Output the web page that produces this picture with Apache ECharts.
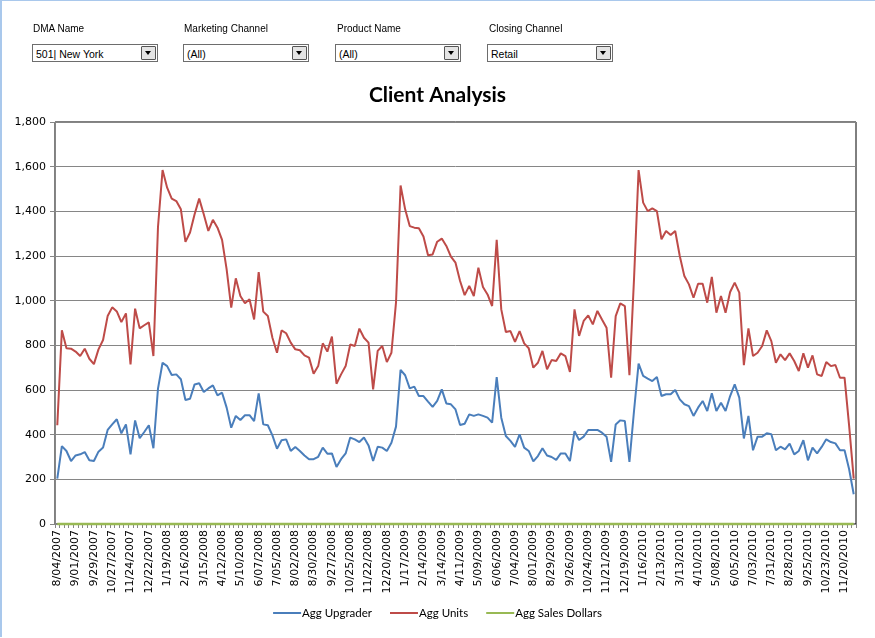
<!DOCTYPE html>
<html>
<head>
<meta charset="utf-8">
<script src="https://cdn.jsdelivr.net/npm/echarts@6/dist/echarts.min.js"></script>
<style>
  html, body { margin: 0; padding: 0; background: #fff; }
  #wrap { position: relative; width: 875px; height: 638px; overflow: hidden; }
  #chart { position: absolute; left: 0; top: 0; width: 875px; height: 638px; }
  .edge { position: absolute; left: 0; top: 0; width: 873px; height: 636px; border-left: 2px solid #a9c8ec; border-top: 1px solid #a9c8ec; pointer-events: none; }
  .lbl { position: absolute; font: 10px "Liberation Sans", Arial, sans-serif; color: #000; }
  .box { position: absolute; height: 18px; width: 126px; border: 1px solid #6d6d6d; background: #fff;
         font: 10.5px "Liberation Sans", Arial, sans-serif; line-height: 18px; padding-left: 3px; box-sizing: border-box; }
  .btn { position: absolute; right: 1px; top: 1px; width: 15px; height: 14px; background: #e4e4e4;
         border: 1px solid #555; border-radius: 1px; box-sizing: border-box; }
  .btn:after { content: ''; position: absolute; left: 3px; top: 4px; border-left: 3px solid transparent;
               border-right: 3px solid transparent; border-top: 4px solid #000; }
</style>
</head>
<body>
<div id="wrap">
  <div id="chart"></div>
  <div class="edge"></div>
  <div class="lbl" style="left:33px;top:23px">DMA Name</div>
  <div class="lbl" style="left:184px;top:23px">Marketing Channel</div>
  <div class="lbl" style="left:337px;top:23px">Product Name</div>
  <div class="lbl" style="left:489px;top:23px">Closing Channel</div>
  <div class="box" style="left:32px;top:44px">501| New York<div class="btn"></div></div>
  <div class="box" style="left:183px;top:44px">(All)<div class="btn"></div></div>
  <div class="box" style="left:335px;top:44px">(All)<div class="btn"></div></div>
  <div class="box" style="left:487px;top:44px">Retail<div class="btn"></div></div>
</div>
<script>
// weekly series, first week 8/04/2007
var startDate = '2007-08-04'
var seriesNames = ['Agg Upgrader', 'Agg Units', 'Agg Sales Dollars']

var aggUpgrader = [
  203, 349, 327, 282, 307, 312, 322, 285, 282, 324, 342, 421, 446, 469, 406, 446, 312, 464, 384, 412,
  442, 339, 606, 722, 707, 667, 670, 648, 555, 561, 625, 630, 591, 607, 621, 576, 588, 521, 431, 484,
  466, 487, 487, 461, 585, 446, 442, 397, 337, 375, 379, 327, 345, 327, 307, 290, 290, 301, 342, 315,
  316, 255, 290, 316, 387, 379, 367, 387, 352, 282, 346, 342, 327, 364, 436, 690, 666, 607, 615, 573,
  573, 548, 524, 551, 603, 540, 536, 513, 443, 449, 491, 484, 491, 484, 476, 454, 658, 476, 394, 372,
  345, 402, 342, 327, 280, 304, 339, 307, 300, 287, 316, 316, 282, 416, 376, 391, 421, 421, 421, 409,
  391, 278, 446, 464, 461, 278, 506, 718, 663, 651, 640, 658, 573, 581, 581, 600, 558, 536, 528, 484,
  521, 551, 506, 585, 506, 543, 506, 573, 625, 566, 383, 484, 330, 391, 391, 406, 402, 330, 346, 334,
  360, 312, 327, 375, 285, 342, 316, 345, 379, 367, 361, 330, 330, 245, 133
]

var aggUnits = [
  442, 867, 787, 785, 772, 752, 785, 740, 716, 782, 824, 931, 970, 952, 904, 943, 715, 964, 876, 890,
  903, 752, 1330, 1585, 1506, 1457, 1446, 1409, 1263, 1305, 1387, 1457, 1387, 1312, 1362, 1327, 1272, 1140, 969, 1100,
  1021, 988, 1006, 916, 1128, 951, 931, 834, 767, 867, 854, 812, 782, 778, 755, 745, 673, 707, 809, 772,
  839, 628, 670, 707, 804, 797, 875, 834, 812, 603, 775, 797, 725, 767, 991, 1516, 1409, 1334, 1327, 1324,
  1287, 1203, 1207, 1264, 1278, 1245, 1197, 1170, 1088, 1025, 1066, 1021, 1148, 1061, 1028, 976, 1272, 961, 860, 864,
  815, 864, 809, 787, 700, 722, 775, 693, 734, 730, 764, 752, 681, 961, 842, 909, 934, 894, 954, 916,
  879, 655, 931, 988, 976, 666, 1096, 1585, 1439, 1401, 1413, 1401, 1275, 1312, 1294, 1312, 1200, 1110, 1073, 1013,
  1076, 1076, 991, 1106, 946, 1021, 946, 1039, 1081, 1036, 711, 876, 752, 767, 797, 867, 819, 722, 760, 734,
  764, 730, 685, 764, 700, 755, 670, 663, 725, 707, 712, 655, 655, 439, 203
]

var aggSalesDollars = [
  0, 0, 0, 0, 0, 0, 0, 0, 0, 0, 0, 0, 0, 0, 0, 0, 0, 0, 0, 0,
  0, 0, 0, 0, 0, 0, 0, 0, 0, 0, 0, 0, 0, 0, 0, 0, 0, 0, 0, 0,
  0, 0, 0, 0, 0, 0, 0, 0, 0, 0, 0, 0, 0, 0, 0, 0, 0, 0, 0, 0,
  0, 0, 0, 0, 0, 0, 0, 0, 0, 0, 0, 0, 0, 0, 0, 0, 0, 0, 0, 0,
  0, 0, 0, 0, 0, 0, 0, 0, 0, 0, 0, 0, 0, 0, 0, 0, 0, 0, 0, 0,
  0, 0, 0, 0, 0, 0, 0, 0, 0, 0, 0, 0, 0, 0, 0, 0, 0, 0, 0, 0,
  0, 0, 0, 0, 0, 0, 0, 0, 0, 0, 0, 0, 0, 0, 0, 0, 0, 0, 0, 0,
  0, 0, 0, 0, 0, 0, 0, 0, 0, 0, 0, 0, 0, 0, 0, 0, 0, 0, 0, 0,
  0, 0, 0, 0, 0, 0, 0, 0, 0, 0, 0, 0, 0, 0, 0
]

// week labels: m/dd/yyyy
var weeks = []
var d0 = new Date(startDate + 'T00:00:00')
for (var i = 0; i < aggUnits.length; i++) {
  var d = new Date(d0.getTime())
  d.setDate(d0.getDate() + i * 7)
  var dd = d.getDate() < 10 ? '0' + d.getDate() : '' + d.getDate()
  weeks.push((d.getMonth() + 1) + '/' + dd + '/' + d.getFullYear())
}

var colors = ['#4a7ebb', '#be4b48', '#98b954']

var chart = echarts.init(document.getElementById('chart'))
chart.setOption({
  animation: false,
  color: colors,
  title: {
    text: 'Client Analysis',
    left: 'center',
    top: 80,
    textStyle: { fontFamily: 'Lato', fontWeight: 'bold', fontSize: 21, color: '#000' }
  },
  legend: {
    bottom: 14,
    left: 'center',
    icon: 'rect',
    itemWidth: 28,
    itemHeight: 2,
    itemGap: 18,
    textStyle: { fontFamily: 'Lato', fontSize: 11.5, color: '#000', padding: [0, 0, 0, -4] },
    data: seriesNames
  },
  grid: {
    left: 55,
    right: 19,
    top: 122,
    bottom: 114,
    show: true,
    borderColor: '#000',
    borderWidth: 1,
    containLabel: false
  },
  xAxis: {
    type: 'category',
    data: weeks,
    boundaryGap: true,
    axisLine: { lineStyle: { color: '#868686', width: 1 } },
    axisTick: { show: true, interval: 0, length: 4, lineStyle: { color: '#868686' } },
    axisLabel: {
      interval: 3,
      rotate: 90,
      margin: 6,
      fontFamily: 'DejaVu Sans',
      fontSize: 11,
      color: '#000'
    },
    splitLine: { show: false }
  },
  yAxis: {
    type: 'value',
    min: 0,
    max: 1800,
    interval: 200,
    axisLine: { show: true, lineStyle: { color: '#868686' } },
    axisTick: { show: true, length: 5, lineStyle: { color: '#868686' } },
    axisLabel: {
      margin: 9,
      fontFamily: 'DejaVu Sans',
      fontSize: 11,
      color: '#000',
      formatter: function (v) { return v.toLocaleString('en-US') }
    },
    splitLine: { lineStyle: { color: '#868686', width: 1 } }
  },
  series: [
    { name: seriesNames[0], type: 'line', data: aggUpgrader, showSymbol: false, lineStyle: { width: 2 } },
    { name: seriesNames[1], type: 'line', data: aggUnits, showSymbol: false, lineStyle: { width: 2 } },
    { name: seriesNames[2], type: 'line', data: aggSalesDollars, showSymbol: false, clip: false, zlevel: 1, lineStyle: { width: 2.5 } }
  ]
})
</script>
</body>
</html>
